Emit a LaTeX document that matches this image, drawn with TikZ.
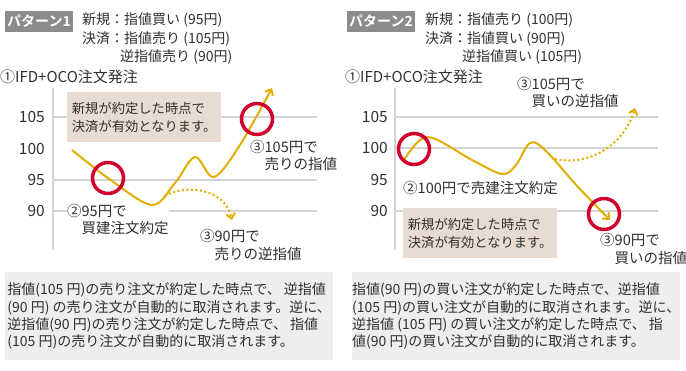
\documentclass[tikz,border=0pt]{standalone}
\usepackage{fontspec}
\setmainfont{Noto Sans CJK JP}[BoldFont={Noto Sans CJK JP Bold}]
\usetikzlibrary{arrows.meta,positioning}
\definecolor{ink}{HTML}{303030}
\definecolor{gold}{HTML}{E0AE00}
\definecolor{ringred}{HTML}{D2002C}
\definecolor{tagfill}{HTML}{8C8C8C}
\definecolor{memofill}{HTML}{E8DCD2}
\definecolor{notefill}{HTML}{EEEEEE}
\definecolor{gridgray}{HTML}{D4D4D4}
\newcommand{\sz}[2]{\fontsize{#1}{#2}\selectfont}

\begin{document}
\begin{tikzpicture}[
        x=1pt, y=-1pt,
        every node/.style={text=ink, inner sep=0pt},
        tag_box/.style={fill=tagfill, text=white, font=\sz{14}{16}\bfseries, minimum width=68pt, minimum height=21pt},
        head/.style={anchor=west, font=\sz{14}{17}},
        step_title/.style={anchor=west, font=\sz{15}{18}},
        tick/.style={anchor=east, font=\sz{15.5}{18}},
        grid_line/.style={draw=gridgray, line width=2pt},
        memo/.style={fill=memofill, font=\sz{13.3}{18}, align=left, minimum width=154pt, minimum height=50pt, anchor=north west},
        note/.style={fill=notefill, font=\sz{14}{17.3}, align=left, minimum width=328pt, minimum height=88pt, anchor=north west},
        callout/.style={anchor=west, align=left, fill=white, font=\sz{14.5}{17.5}},
        price/.style={draw=gold, line width=2pt, -{Straight Barb[length=5pt,width=9pt]}},
        plan/.style={price, dash pattern=on 2pt off 2.5pt},
        ring/.style={draw=ringred, line width=3.5pt}
        ]
    \useasboundingbox (0,0) rectangle (686,370);

    % pattern 1
    \node[tag_box] (tag1) at (39,21.5) {パターン1};
    \node[head] (new1) at (82,20) {新規：指値買い (95円)};
    \node[head] (set1) at (82,39) {決済：指値売り (105円)};
    \node[head] (stop1) at (120,57) {逆指値売り (90円)};
    \node[step_title] (ifd1) at (0,77) {①IFD+OCO注文発注};
    \draw[grid_line] (53,88) -- (53,250);
    \foreach \y in {117,180,211}
        \draw[grid_line] (53,\y) -- (317,\y);
    \foreach \v/\y in {105/117,100/149,95/180,90/211}
        \node[tick] at (45,\y) {\v};
    \node[memo] (memo1) at (67,92) {新規が約定した時点で\\決済が有効となります。};
    \node[callout] (buy1) at (67,219.5) {②95円で\\\phantom{②}買建注文約定};
    \node[callout] (stoplab1) at (200,245) {③90円で\\\phantom{③}売りの逆指値};
    \node[callout] (limlab1) at (250,155.5) {③105円で\\\phantom{③}売りの指値};
    \draw[price] plot[smooth, tension=0.55] coordinates
        {(72,150) (112,181) (152,205) (175,183) (195,157) (214,177) (240,145) (272,88)};
    \draw[plan] (165,196) .. controls (185,184) and (225,188) .. (232,220);
    \draw[ring] (108,178) circle (15.5pt);
    \draw[ring] (257,119) circle (15.5pt);
    \node[note] (note1) at (5,272) {指値(105 円)の売り注文が約定した時点で、 逆指値\\(90 円) の売り注文が自動的に取消されます。逆に、\\逆指値(90 円)の売り注文が約定した時点で、 指値\\(105 円)の売り注文が自動的に取消されます。};

    % pattern 2
    \node[tag_box] (tag2) at (381,21.5) {パターン2};
    \node[head] (new2) at (425,20) {新規：指値売り (100円)};
    \node[head] (set2) at (425,39) {決済：指値買い (90円)};
    \node[head] (stop2) at (462,57) {逆指値買い (105円)};
    \node[step_title] (ifd2) at (345,77) {①IFD+OCO注文発注};
    \draw[grid_line] (395,88) -- (395,250);
    \foreach \y in {117,148,211}
        \draw[grid_line] (395,\y) -- (658,\y);
    \foreach \v/\y in {105/117,100/148,95/180,90/211}
        \node[tick] at (388,\y) {\v};
    \node[callout] (stoplab2) at (517,92.5) {③105円で\\\phantom{③}買いの逆指値};
    \node[callout] (sell2) at (403,188) {②100円で売建注文約定};
    \node[memo] (memo2) at (403,208) {新規が約定した時点で\\決済が有効となります。};
    \node[callout] (limlab2) at (600,249) {③90円で\\\phantom{③}買いの指値};
    \draw[price] plot[smooth, tension=0.55] coordinates
        {(403,162) (427,137) (472,160) (502,174) (516,165) (530,143) (545,150) (578,187) (610,220)};
    \draw[plan] (555,159) .. controls (592,167) and (625,142) .. (635,108);
    \draw[ring] (414,149) circle (15.5pt);
    \draw[ring] (604,214) circle (15.5pt);
    \node[note] (note2) at (352,272) {指値(90 円)の買い注文が約定した時点で、逆指値\\(105 円)の買い注文が自動的に取消されます。逆に、\\逆指値 (105 円) の買い注文が約定した時点で、 指\\値(90 円)の買い注文が自動的に取消されます。};
\end{tikzpicture}
\end{document}
